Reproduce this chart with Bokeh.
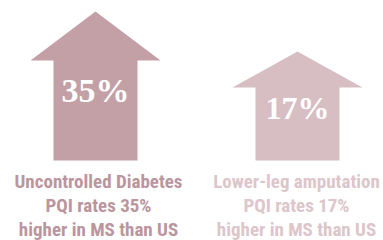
from bokeh.plotting import figure
from bokeh.models import Range1d
from bokeh.core.properties import value
from bokeh.embed import file_html
from bokeh.resources import INLINE

# ---- data ----
categories = ["Uncontrolled Diabetes", "Lower-leg amputation"]
pct = [35, 17]
pct_labels = ["35%", "17%"]
label_lines = [
    ["Uncontrolled Diabetes", "PQI rates 35%", "higher in MS than US"],
    ["Lower-leg amputation", "PQI rates 17%", "higher in MS than US"],
]

# ---- layout / style ----
centers = [95, 297]
tops = [11, 51]
head_base = [60, 87]
bottom = 160
shaft_half = 42
head_half = 65
arrow_colors = ["#c39fa6", "#d6bec3"]
label_colors = ["#bb959d", "#dcc6ca"]
pct_y = [90, 107]
pct_size = ["34px", "32px"]
label_x = [98, 296]

W, H = 383, 240
p = figure(width=W, height=H, output_backend="svg", toolbar_location=None,
           x_range=Range1d(0, W), y_range=Range1d(H, 0), min_border=0)
p.axis.visible = False
p.grid.visible = False
p.outline_line_color = None
p.background_fill_color = "white"

xs, ys = [], []
for c, t, hb in zip(centers, tops, head_base):
    xs.append([c, c + head_half, c + shaft_half, c + shaft_half,
               c - shaft_half, c - shaft_half, c - head_half])
    ys.append([t, hb, hb, bottom, bottom, hb, hb])
p.patches(xs, ys, fill_color=arrow_colors, line_color=None)

for i in range(len(categories)):
    p.text([centers[i]], [pct_y[i]], text=[pct_labels[i]], text_align="center",
           text_baseline="middle", text_color="white",
           text_font=value("Liberation Serif"), text_font_style="bold",
           text_font_size=pct_size[i])
    for j, line in enumerate(label_lines[i]):
        p.text([label_x[i]], [181 + j * 24], text=[line], text_align="center",
               text_baseline="middle", text_color=label_colors[i],
               text_font=value("Roboto Condensed"), text_font_style="bold",
               text_font_size="19px")

open("out.html", "w").write(file_html(p, INLINE))
